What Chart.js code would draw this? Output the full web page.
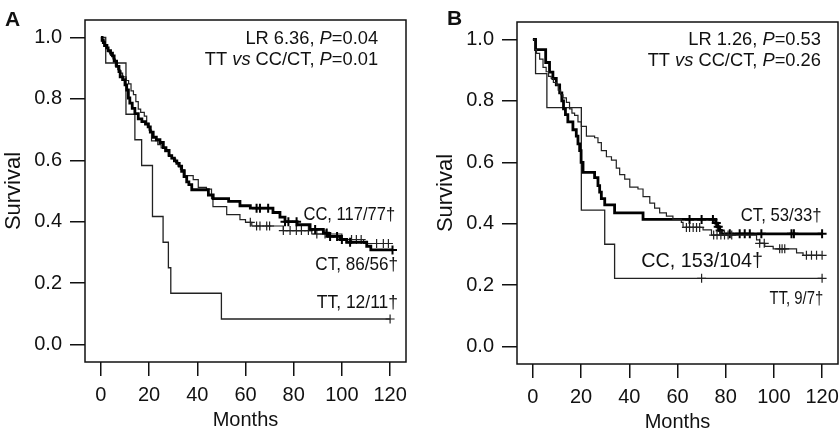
<!DOCTYPE html>
<html>
<head>
<script src="https://cdn.jsdelivr.net/npm/chart.js"></script>
<style>
    body { margin: 0; width: 840px; height: 432px; overflow: hidden; background: #fff; position: relative; }
    canvas { position: absolute; }
    #panelA { left: 0; top: 0; }
    #panelB { left: 432px; top: 2px; }
</style>
</head>
<body>
<canvas id="panelA" width="420" height="432"></canvas>
<canvas id="panelB" width="420" height="432"></canvas>
<script>
const xTicks = [0, 20, 40, 60, 80, 100, 120];
const yTicks = [0, 0.2, 0.4, 0.6, 0.8, 1.0];

// Panel A: step times (months) and survival after each step, censor times
const aCcTime = [0.5, 1, 1.5, 2.5, 3, 4, 4.8, 5.5, 6.5, 7.5, 8, 9, 10, 10.7, 11.4, 12, 13, 14.1, 15.5, 17, 18.5, 19.6, 20.5, 21.7, 23, 24.5, 25.9, 27, 28.3, 29.4, 30.5, 31.5, 32.5, 33.5, 34.5, 35.6, 36.5, 37.7, 44.6, 46.6, 53, 57.7, 62, 71.4, 74.3, 76.4, 81.4, 86.8, 92.3, 94.4, 99.3, 102, 110.3, 112];
const aCcSurv = [0.991, 0.983, 0.974, 0.966, 0.957, 0.949, 0.94, 0.923, 0.906, 0.889, 0.872, 0.863, 0.846, 0.829, 0.803, 0.786, 0.769, 0.752, 0.735, 0.726, 0.718, 0.709, 0.692, 0.675, 0.667, 0.658, 0.641, 0.632, 0.615, 0.607, 0.598, 0.59, 0.581, 0.564, 0.547, 0.53, 0.521, 0.504, 0.487, 0.475, 0.466, 0.452, 0.444, 0.43, 0.415, 0.4, 0.39, 0.375, 0.363, 0.352, 0.342, 0.333, 0.32, 0.308];
const aCcCens = [64.6, 66, 69.4, 76.4, 77.8, 81.2, 88.9, 93.7, 95.1, 98, 100, 103.4, 121];

const aCtTime = [0.5, 1.5, 2, 3, 4, 5, 6, 7, 8, 9, 10.5, 11.5, 12.5, 13.5, 14.5, 15.5, 16.5, 18, 19, 20, 21, 23.6, 25, 26.5, 28, 29.5, 31, 32, 33, 34.9, 38.3, 40.4, 43.8, 45.9, 46.5, 52.2, 57.7, 60, 62.6, 75.7, 87.5, 100, 109];
const aCtSurv = [0.988, 0.977, 0.965, 0.953, 0.942, 0.93, 0.907, 0.895, 0.884, 0.872, 0.86, 0.849, 0.826, 0.814, 0.791, 0.767, 0.756, 0.744, 0.721, 0.698, 0.663, 0.651, 0.64, 0.628, 0.616, 0.605, 0.593, 0.581, 0.57, 0.55, 0.537, 0.512, 0.506, 0.475, 0.449, 0.423, 0.407, 0.398, 0.386, 0.371, 0.36, 0.342, 0.329];
const aCtCens = [62, 64.6, 66, 68.8, 70, 75.7, 78.5, 81.1, 83.2, 86.1, 89.6, 93, 104, 106, 108, 114.4, 117.2, 119.3];

const aTtTime = [2, 10.4, 14.1, 16.9, 21.4, 25.8, 28, 29, 50];
const aTtSurv = [0.917, 0.75, 0.667, 0.583, 0.417, 0.333, 0.25, 0.167, 0.083];
const aTtCens = [120];

// Panel B
const bCtTime = [1.1, 5.3, 6.9, 8.3, 9.7, 11.1, 12, 12.7, 13.5, 14.5, 16.6, 18, 18.7, 19.4, 20, 20.8, 25.6, 27, 27.7, 28.4, 29.8, 33.9, 45.7, 75.8, 76.5, 77.3, 78.2];
const bCtSurv = [0.967, 0.925, 0.894, 0.873, 0.852, 0.826, 0.8, 0.774, 0.755, 0.732, 0.706, 0.685, 0.66, 0.638, 0.6, 0.567, 0.55, 0.524, 0.503, 0.482, 0.461, 0.435, 0.414, 0.402, 0.39, 0.378, 0.367];
const bCtCens = [65, 70, 74.7, 76.1, 76.9, 77.7, 81.7, 85.8, 87.9, 90, 94.8, 107.3, 108.3, 120];

const bCcTime = [0.7, 1.5, 2.8, 4.2, 5.5, 6.5, 7.6, 8.5, 9.7, 10.5, 11.5, 12.5, 13.9, 15.2, 16.2, 17.3, 18.7, 20.1, 22.2, 25.6, 27, 28.4, 30.5, 32.6, 34.6, 36, 38.1, 40.2, 43.6, 45.7, 48.5, 50.5, 52.6, 55.4, 58.1, 61.6, 62.3, 70.6, 74.1, 92.8, 94.1, 96.2, 99.7, 109.4, 112.1];
const bCcSurv = [0.967, 0.955, 0.936, 0.909, 0.895, 0.88, 0.873, 0.86, 0.852, 0.835, 0.82, 0.81, 0.795, 0.774, 0.76, 0.753, 0.732, 0.717, 0.685, 0.68, 0.664, 0.638, 0.618, 0.607, 0.581, 0.56, 0.545, 0.519, 0.513, 0.488, 0.467, 0.451, 0.435, 0.425, 0.414, 0.404, 0.388, 0.38, 0.363, 0.347, 0.336, 0.326, 0.318, 0.305, 0.297];
const bCcCens = [63.7, 65, 66.5, 67.9, 69.2, 75, 76.4, 78, 79.5, 81, 82.5, 94.1, 96, 102.4, 103.4, 104.5, 113.5, 115.6, 117.7, 120];

const bTtTime = [1.1, 5.8, 20.1, 29.8, 33.9];
const bTtSurv = [0.889, 0.778, 0.444, 0.333, 0.222];
const bTtCens = [70, 120];

const FONT = '"Liberation Sans", Arial, Helvetica, sans-serif';

function kmPoints(time, surv, end) {
    const pts = [{x: 0, y: 1}];
    time.forEach((t, i) => pts.push({x: t, y: surv[i]}));
    pts.push({x: end, y: surv[surv.length - 1]});
    return pts;
}

function survAt(time, surv, t) {
    let s = 1;
    time.forEach((ti, i) => { if (ti <= t) s = surv[i]; });
    return s;
}

function curve(time, surv, cens, width, color) {
    const end = Math.max(cens[cens.length - 1], time[time.length - 1]);
    return [
        {
            data: kmPoints(time, surv, end),
            stepped: 'before',
            borderColor: color,
            borderWidth: width,
            pointRadius: 0,
            fill: false
        }, {
            data: cens.map(t => ({x: t, y: survAt(time, surv, t)})),
            showLine: false,
            pointStyle: 'cross',
            pointRadius: 4.5,
            pointBorderWidth: width > 2 ? 2 : 1.2,
            pointBorderColor: color,
            borderColor: color
        }
    ];
}

// draws "a *b* c" with the starred parts in italics, right aligned at 0
function drawRuns(ctx, str, size) {
    const parts = str.split('*');
    let w = 0;
    parts.forEach((p, i) => {
        ctx.font = (i % 2 ? 'italic ' : '') + size + 'px ' + FONT;
        w += ctx.measureText(p).width;
    });
    let cx = -w;
    parts.forEach((p, i) => {
        ctx.font = (i % 2 ? 'italic ' : '') + size + 'px ' + FONT;
        ctx.fillText(p, cx, 0);
        cx += ctx.measureText(p).width;
    });
}

const kmText = {
    id: 'kmText',
    afterDraw(chart, args, opts) {
        const ctx = chart.ctx;
        const a = chart.chartArea;
        const xs = chart.scales.x, ys = chart.scales.y;
        ctx.save();
        ctx.strokeStyle = '#111';
        ctx.lineWidth = 1.5;
        ctx.strokeRect(a.left, a.top, a.right - a.left, a.bottom - a.top);
        ctx.fillStyle = '#111';
        ctx.textAlign = 'left';
        ctx.textBaseline = 'middle';
        opts.labels.forEach(l => {
            ctx.save();
            ctx.translate(xs.getPixelForValue(l.x), ys.getPixelForValue(l.y));
            ctx.scale(l.squeeze || 1, 1);
            drawRuns(ctx, l.text, l.size || 18.6);
            ctx.restore();
        });
        ctx.font = 'bold 21px ' + FONT;
        ctx.fillText(opts.letter, opts.letterX, opts.letterY);
        ctx.restore();
    }
};

function makePanel(id, datasets, opts) {
    return new Chart(document.getElementById(id), {
        type: 'line',
        data: {datasets: datasets},
        plugins: [kmText],
        options: {
            responsive: false,
            animation: false,
            layout: {padding: {top: 5, right: 14, left: 0, bottom: 0}},
            plugins: {legend: {display: false}, tooltip: {enabled: false}, kmText: opts},
            scales: {
                x: {
                    type: 'linear',
                    min: -6.6,
                    max: 126.6,
                    afterFit: s => { s.height = 70; },
                    afterBuildTicks: s => { s.ticks = xTicks.map(v => ({value: v})); },
                    border: {display: false},
                    grid: {drawOnChartArea: false, drawTicks: true, tickLength: 14, color: '#111', lineWidth: 1.5},
                    ticks: {color: '#111', padding: 7, font: {family: FONT, size: 20}, callback: v => String(v), maxRotation: 0},
                    title: {display: true, text: 'Months', color: '#111', padding: 0, font: {family: FONT, size: 20}}
                },
                y: {
                    min: -0.057,
                    max: 1.057,
                    afterFit: s => { s.width = 85; },
                    afterBuildTicks: s => { s.ticks = yTicks.map(v => ({value: v})); },
                    border: {display: false},
                    grid: {drawOnChartArea: false, drawTicks: true, tickLength: 15, color: '#111', lineWidth: 1.5},
                    ticks: {color: '#111', padding: 8, font: {family: FONT, size: 20}, callback: v => v.toFixed(1)},
                    title: {display: true, text: 'Survival', color: '#111', padding: 1, font: {family: FONT, size: 22}}
                }
            }
        }
    });
}

makePanel('panelA', [
    ...curve(aCcTime, aCcSurv, aCcCens, 2.8, '#000'),
    ...curve(aCtTime, aCtSurv, aCtCens, 1.2, '#222'),
    ...curve(aTtTime, aTtSurv, aTtCens, 1.3, '#222')
], {
    letter: 'A', letterX: 5, letterY: 20,
    labels: [
        {text: 'LR 6.36, *P*=0.04', x: 115, y: 0.996, size: 18.3},
        {text: 'TT *vs* CC/CT, *P*=0.01', x: 115, y: 0.928, size: 18.3},
        {text: 'CC, 117/77\u2020', x: 122.1, y: 0.423, squeeze: 0.89},
        {text: 'CT, 86/56\u2020', x: 123.3, y: 0.26, squeeze: 0.92},
        {text: 'TT, 12/11\u2020', x: 123.3, y: 0.134, squeeze: 0.94}
    ]
});

makePanel('panelB', [
    ...curve(bCcTime, bCcSurv, bCcCens, 1.2, '#222'),
    ...curve(bCtTime, bCtSurv, bCtCens, 2.8, '#000'),
    ...curve(bTtTime, bTtSurv, bTtCens, 1.3, '#222')
], {
    letter: 'B', letterX: 15, letterY: 17,
    labels: [
        {text: 'LR 1.26, *P*=0.53', x: 119.5, y: 0.998, size: 18.3},
        {text: 'TT *vs* CC/CT, *P*=0.26', x: 119.5, y: 0.929, size: 18.3},
        {text: 'CT, 53/33\u2020', x: 119.8, y: 0.4256, squeeze: 0.9},
        {text: 'CC, 153/104\u2020', x: 95.5, y: 0.279, size: 21, squeeze: 0.94},
        {text: 'TT, 9/7\u2020', x: 120.5, y: 0.156, squeeze: 0.8}
    ]
});
</script>
</body>
</html>
